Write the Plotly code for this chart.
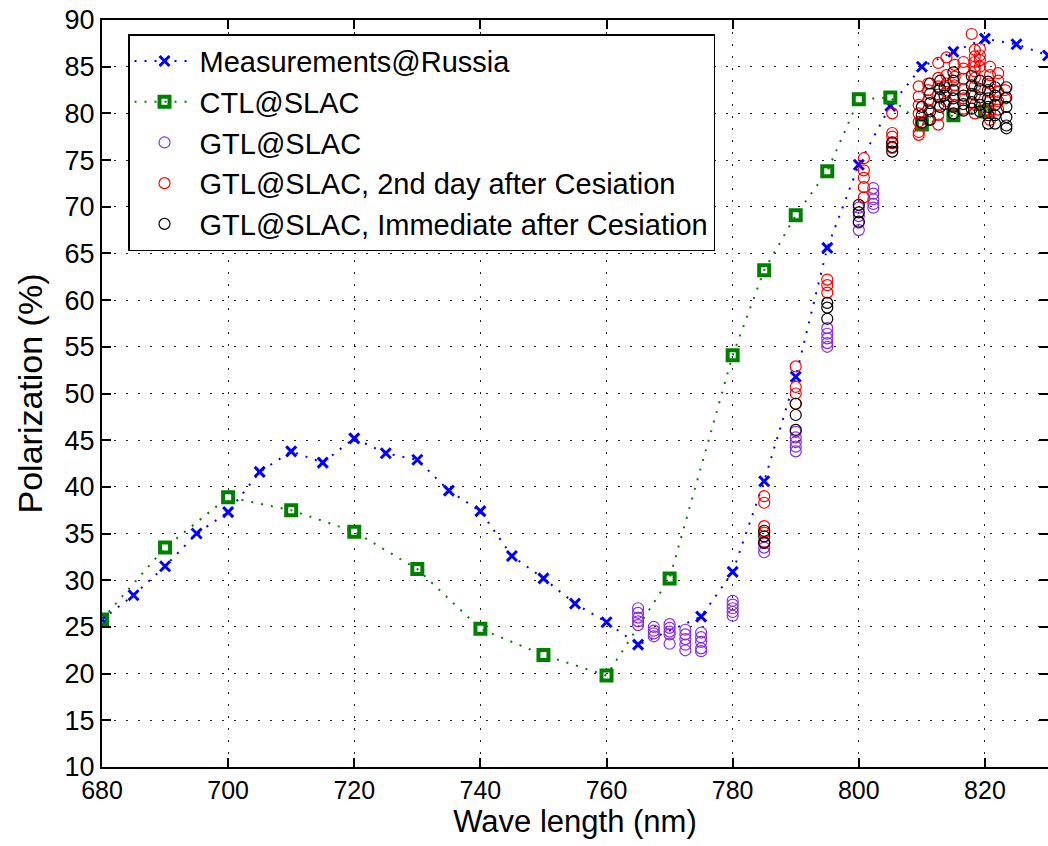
import plotly.graph_objects as go

# ---------------- data ----------------
russia_wl = [680, 685, 690, 695, 700, 705, 710, 715, 720, 725, 730, 735, 740, 745,
             750, 755, 760, 765, 775, 780, 785, 790, 795, 800, 805, 810, 815, 820, 825, 830]
russia_pol = [25.8, 28.4, 31.5, 35.0, 37.3, 41.6, 43.8, 42.6, 45.2, 43.6, 42.9, 39.6, 37.4, 32.6,
              30.2, 27.5, 25.5, 23.1, 26.1, 30.9, 40.6, 51.8, 65.6, 74.5, 80.8, 85.0, 86.6, 88.0, 87.4, 86.2]

ctl_wl = [680, 690, 700, 710, 720, 730, 740, 750, 760, 770, 780, 785, 790, 795, 800, 805, 810, 815, 820]
ctl_pol = [25.8, 33.5, 38.9, 37.5, 35.2, 31.2, 24.8, 22.0, 19.8, 30.2, 54.1, 63.2, 69.1, 73.8, 81.5, 81.7, 78.8, 79.8, 80.2]

# GTL@SLAC : (wavelength, [polarization values])
gtl_cols = [
    (765.0, [27.0, 26.5, 26.0, 25.6, 25.2]),
    (767.5, [25.0, 24.6, 24.3, 24.0]),
    (770.0, [25.3, 24.9, 24.5, 24.2, 23.2]),
    (772.5, [24.7, 24.2, 23.7, 23.1, 22.5]),
    (775.0, [24.4, 23.9, 23.4, 22.7, 22.4]),
    (780.0, [27.8, 27.4, 27.0, 26.6, 26.2]),
    (785.0, [34.0, 33.5, 33.0]),
    (790.0, [45.9, 45.3, 44.8, 44.3, 43.8]),
    (795.0, [57.0, 56.4, 55.9, 55.4, 55.0]),
    (800.0, [69.9, 69.0, 68.3, 67.5]),
    (802.3, [72.0, 71.4, 70.8, 70.3, 69.9]),
]

# GTL@SLAC, 2nd day after Cesiation
red_cols = [
    (785.0, [39.0, 38.3, 35.8, 35.1, 34.1]),
    (790.0, [52.9, 50.7, 50.0, 48.9]),
    (795.0, [62.2, 61.6, 60.8]),
    (800.8, [75.2, 73.9, 73.1, 72.1, 71.0]),
    (805.3, [80.0, 77.9, 77.5, 76.8, 76.3]),
    (809.5, [82.9, 81.8, 80.9, 80.0, 79.1, 78.0, 77.7]),
    (811.0, [83.2, 82.5, 81.4, 80.4, 79.3]),
    (812.6, [85.4, 83.8, 82.9, 82.0, 80.9, 79.8, 78.8]),
    (813.9, [86.0, 84.1, 83.2, 82.3, 81.3]),
    (815.2, [85.2, 83.9, 83.0, 81.9, 80.9]),
    (816.6, [85.5, 84.8, 83.7, 82.6, 81.6, 80.5]),
    (817.9, [88.5]),
    (818.4, [86.8, 86.1, 85.5, 85.0, 84.5, 83.8, 82.9, 82.0, 80.9, 80.0]),
    (819.2, [86.9, 86.2, 85.7, 85.0]),
    (820.8, [85.0, 84.1, 83.2, 82.3, 81.3, 80.2, 79.3]),
    (822.1, [84.3, 83.5, 82.3, 81.3, 80.4]),
    (823.2, [82.5, 81.6]),
]

# GTL@SLAC, Immediate after Cesiation
black_cols = [
    (785.0, [35.3, 34.7, 34.0]),
    (790.0, [48.9, 47.7, 46.1]),
    (795.0, [59.7, 59.2, 58.0]),
    (800.0, [70.2, 69.4, 68.4]),
    (805.3, [76.9, 76.4, 75.9]),
    (810.0, [80.7, 79.8, 79.0]),
    (811.3, [83.2, 82.1, 81.1, 80.2, 79.3]),
    (812.9, [83.5, 82.6, 81.7, 80.7]),
    (813.6, [82.8, 81.9, 81.0]),
    (815.0, [84.4, 83.5, 82.5, 81.6, 80.7, 80.0]),
    (816.6, [81.9, 81.0, 80.3]),
    (817.9, [84.0, 83.0, 82.1, 81.2, 80.5]),
    (819.2, [83.5, 82.6, 81.7, 80.9, 80.2]),
    (820.5, [83.4, 82.5, 81.6, 80.7, 79.8, 78.9]),
    (821.6, [82.8, 81.9, 80.9, 79.8, 78.9]),
    (823.4, [82.8, 81.7, 80.7, 79.6, 78.7, 78.4]),
]

x_ticks = [680, 700, 720, 740, 760, 780, 800, 820]
y_ticks = list(range(10, 95, 5))


def expand(cols):
    xs, ys = [], []
    for wl, vals in cols:
        for v in vals:
            xs.append(wl)
            ys.append(v)
    return xs, ys


FONT = "Liberation Sans, Arial, sans-serif"

fig = go.Figure()

fig.add_trace(go.Scatter(
    x=russia_wl, y=russia_pol, mode="lines+markers", name="Measurements@Russia",
    line=dict(color="#0000FF", width=2, dash="2px,8px"),
    marker=dict(symbol="x-thin", size=10, color="#0000FF", line=dict(color="#0000FF", width=3)),
    legendgroup="a"))

fig.add_trace(go.Scatter(
    x=ctl_wl, y=ctl_pol, mode="lines+markers", name="CTL@SLAC",
    line=dict(color="#008000", width=2, dash="2px,8px"),
    marker=dict(symbol="square-open", size=10, color="#008000", line=dict(color="#008000", width=4)),
    legendgroup="b"))

for cols, color, name, grp in [
    (gtl_cols, "#8A2BE2", "GTL@SLAC", "c"),
    (red_cols, "#FF0000", "GTL@SLAC, 2nd day after Cesiation", "d"),
    (black_cols, "#000000", "GTL@SLAC, Immediate after Cesiation", "e"),
]:
    xs, ys = expand(cols)
    fig.add_trace(go.Scatter(
        x=xs, y=ys, mode="markers", name=name,
        marker=dict(symbol="circle-open", size=11, color=color, line=dict(color=color, width=1.2)),
        legendgroup=grp))

axis_common = dict(
    showline=True, linecolor="black", linewidth=2, mirror="ticks",
    ticks="inside", ticklen=9, tickwidth=1.5, tickcolor="black",
    showgrid=True, gridcolor="#222222", gridwidth=1, griddash="2px,10px",
    zeroline=False, automargin=False,
)

fig.update_xaxes(
    range=[680, 830], tickmode="array", tickvals=x_ticks, ticktext=[str(t) for t in x_ticks],
    tickfont=dict(family=FONT, size=25, color="black"),
    title=dict(text="Wave length (nm)", font=dict(family=FONT, size=31, color="black"), standoff=0),
    **axis_common)

fig.update_yaxes(
    range=[10, 90], tickmode="array", tickvals=y_ticks, ticktext=[str(t) for t in y_ticks],
    tickfont=dict(family=FONT, size=27, color="black"),
    title=dict(text="Polarization (%)", font=dict(family=FONT, size=34, color="black"), standoff=12),
    **axis_common)

fig.update_layout(
    width=1048, height=846,
    margin=dict(l=102, r=0, t=20, b=79),
    paper_bgcolor="white", plot_bgcolor="white",
    showlegend=True,
    legend=dict(
        x=0.0275, y=0.981, xanchor="left", yanchor="top",
        bgcolor="white", bordercolor="black", borderwidth=1.5,
        font=dict(family=FONT, size=29, color="black"),
        tracegroupgap=6, itemwidth=60,
        traceorder="normal",
    ),
)

# remove the default page margin so the figure sits at the window's top-left corner
fig.write_html(
    "out.html",
    config={"displayModeBar": False},
    post_script="document.body.style.margin='0';document.body.style.overflow='hidden';",
)
